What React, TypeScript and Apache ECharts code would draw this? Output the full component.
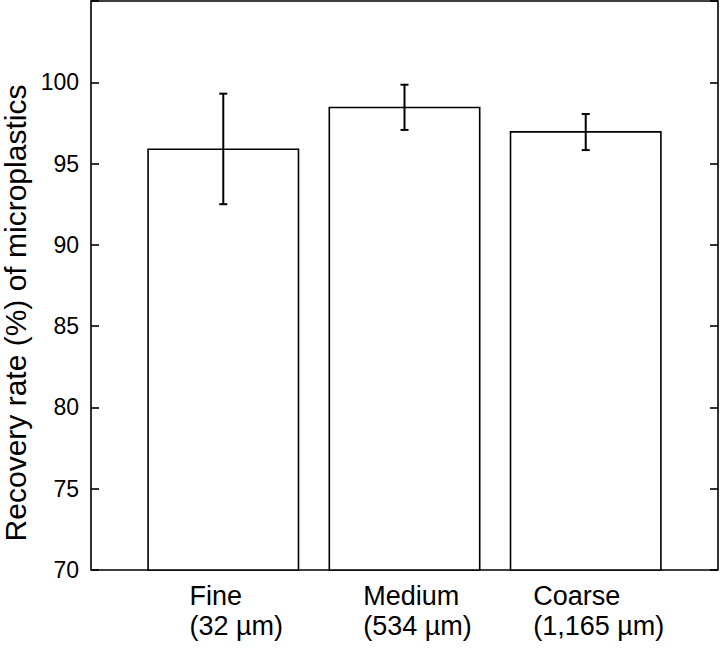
import React, { useEffect, useRef } from "react";
import * as echarts from "echarts";

const categoryNames = ["Fine", "Medium", "Coarse"];
const categorySizes = ["(32 µm)", "(534 µm)", "(1,165 µm)"];
const categoryPositions = [1, 2, 3];
const meanRecovery = [95.93, 98.5, 97.0];
const errorLow = [92.5, 97.07, 95.83];
const errorHigh = [99.3, 99.85, 98.05];
const yTicks = [70, 75, 80, 85, 90, 95, 100];

const FONT = "'Liberation Sans', Arial, Helvetica, sans-serif";

export default function App() {
  const ref = useRef<HTMLDivElement>(null);
  useEffect(() => {
    if (!ref.current) return;
    const chart = echarts.init(ref.current, null, { renderer: "svg" });
    const barData = categoryPositions.map((p, i) => [p, meanRecovery[i]]);
    const errData = categoryPositions.map((p, i) => [p, errorLow[i], errorHigh[i]]);
    chart.setOption({
      animation: false,
      backgroundColor: "#fff",
      grid: {
        left: 91,
        right: 2,
        top: 1,
        bottom: 82,
        show: true,
        borderColor: "#000",
        borderWidth: 1.6,
        backgroundColor: "transparent",
      },
      xAxis: {
        type: "value",
        min: 0.27,
        max: 3.73,
        splitLine: { show: false },
        axisLine: { show: false },
        axisTick: { show: false },
        axisLabel: {
          customValues: categoryPositions,
          margin: 11,
          padding: [0, 0, 0, 26],
          formatter: (v: number) => {
            const i = categoryPositions.indexOf(Math.round(v));
            if (i < 0) return "";
            return `{a|${categoryNames[i]}}\n{a|${categorySizes[i]}}`;
          },
          rich: {
            a: {
              align: "left",
              fontSize: 27,
              lineHeight: 30,
              color: "#000",
              fontFamily: FONT,
            },
          },
        },
      },
      yAxis: [
        {
          type: "value",
          min: 70,
          max: 105,
          interval: 5,
          position: "left",
          splitLine: { show: false },
          axisLine: { show: false },
          axisTick: { show: true, inside: true, length: 8, lineStyle: { color: "#000", width: 1.6 } },
          axisLabel: {
            margin: 12,
            fontSize: 23,
            color: "#000",
            fontFamily: FONT,
            formatter: (v: number) => (yTicks.indexOf(v) >= 0 ? String(v) : ""),
          },
        },
        {
          type: "value",
          min: 70,
          max: 105,
          interval: 5,
          position: "right",
          splitLine: { show: false },
          axisLine: { show: false },
          axisTick: { show: true, inside: true, length: 8, lineStyle: { color: "#000", width: 1.6 } },
          axisLabel: { show: false },
        },
      ],
      graphic: [
        {
          type: "text",
          x: 15,
          y: 313,
          rotation: Math.PI / 2,
          style: {
            text: "Recovery rate (%) of microplastics",
            fontSize: 30,
            fontFamily: FONT,
            fill: "#000",
            align: "center",
            verticalAlign: "middle",
          },
        },
      ],
      series: [
        {
          type: "bar",
          data: barData,
          barWidth: 152,
          itemStyle: { color: "#fff", borderColor: "#000", borderWidth: 1.6 },
          z: 2,
        },
        {
          type: "custom",
          data: errData,
          z: 3,
          renderItem: (params: any, api: any) => {
            const x = api.value(0);
            const lo = api.coord([x, api.value(1)]);
            const hi = api.coord([x, api.value(2)]);
            const cap = 4;
            const style = { stroke: "#000", lineWidth: 2 };
            return {
              type: "group",
              children: [
                { type: "line", shape: { x1: lo[0], y1: lo[1], x2: hi[0], y2: hi[1] }, style },
                { type: "line", shape: { x1: hi[0] - cap, y1: hi[1], x2: hi[0] + cap, y2: hi[1] }, style },
                { type: "line", shape: { x1: lo[0] - cap, y1: lo[1], x2: lo[0] + cap, y2: lo[1] }, style },
              ],
            };
          },
        },
      ],
    });
    return () => chart.dispose();
  }, []);
  return (
    <div
      ref={ref}
      style={{ position: "absolute", left: 0, top: 0, width: 720, height: 652 }}
    />
  );
}
